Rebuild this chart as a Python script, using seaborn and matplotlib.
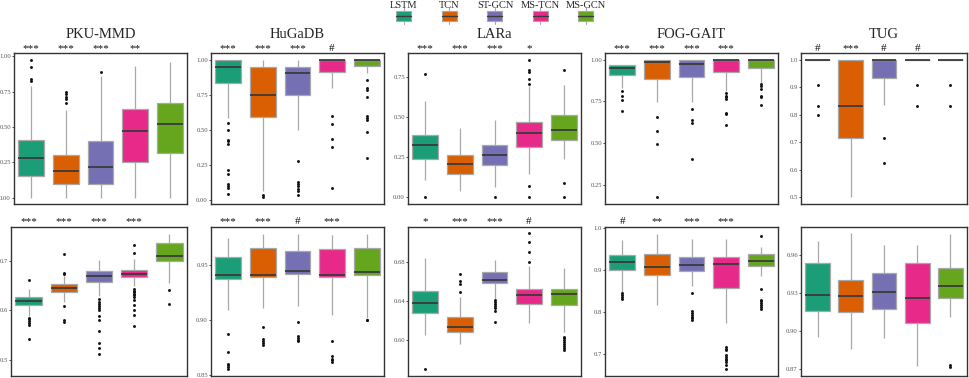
import numpy as np
import pandas as pd
import matplotlib.pyplot as plt
import matplotlib.transforms as mtransforms
from matplotlib.patches import Rectangle
import seaborn as sns

# --- Data ---
models = ["LSTM", "TCN", "ST-GCN", "MS-TCN", "MS-GCN"]
colors = ["#1B9E77", "#D95F02", "#7570B3", "#E7298A", "#66A61E"]
datasets = ["PKU-MMD", "HuGaDB", "LARa", "FOG-GAIT", "TUG"]

# box summaries per model: [whisker low, q1, median, q3, whisker high]
pku_top_box = [[0.0, 0.155, 0.28, 0.41, 0.79], [0.0, 0.10, 0.19, 0.30, 0.62],
               [0.0, 0.095, 0.215, 0.40, 0.86], [0.0, 0.255, 0.47, 0.625, 0.93],
               [0.0, 0.315, 0.52, 0.667, 0.96]]
pku_top_out = [[0.826, 0.838, 0.925, 0.973], [0.667, 0.70, 0.713, 0.73, 0.746],
               [0.885], [], []]

hugadb_top_box = [[0.586, 0.835, 0.953, 1.0, 1.0], [0.06, 0.59, 0.75, 0.955, 1.0],
                  [0.502, 0.75, 0.91, 0.955, 1.0], [0.80, 0.914, 1.0, 1.0, 1.0],
                  [0.91, 0.957, 1.0, 1.0, 1.0]]
hugadb_top_out = [[0.547, 0.502, 0.432, 0.42, 0.40, 0.215, 0.186, 0.116, 0.10, 0.083, 0.045],
                  [0.035, 0.02],
                  [0.28, 0.13, 0.115, 0.10, 0.08, 0.06, 0.035],
                  [0.60, 0.54, 0.435, 0.375, 0.088],
                  [0.86, 0.80, 0.785, 0.737, 0.603, 0.586, 0.575, 0.483, 0.30]]

lara_top_box = [[0.108, 0.237, 0.327, 0.385, 0.597], [0.04, 0.142, 0.208, 0.26, 0.433],
                [0.06, 0.20, 0.262, 0.322, 0.483], [0.142, 0.312, 0.40, 0.468, 0.692],
                [0.24, 0.353, 0.42, 0.514, 0.70]]
lara_top_out = [[0.767, 0.0], [], [0.0],
                [0.705, 0.738, 0.78, 0.79, 0.854, 0.07, 0.0],
                [0.792, 0.09, 0.0]]

fog_top_box = [[0.83, 0.907, 0.952, 0.968, 0.97], [0.746, 0.883, 0.984, 1.0, 1.0],
               [0.746, 0.895, 0.976, 1.0, 1.0], [0.81, 0.927, 1.0, 1.0, 1.0],
               [0.863, 0.948, 1.0, 1.0, 1.0]]
fog_top_out = [[0.815, 0.785, 0.76, 0.695], [0.658, 0.57, 0.494, 0.174],
               [0.702, 0.64, 0.62, 0.405],
               [0.80, 0.785, 0.775, 0.763, 0.682, 0.672, 0.607],
               [0.855, 0.843, 0.827, 0.785, 0.775, 0.727]]

tug_top_box = [[1.0, 1.0, 1.0, 1.0, 1.0], [0.5, 0.716, 0.833, 1.0, 1.0],
               [0.834, 0.933, 1.0, 1.0, 1.0], [1.0, 1.0, 1.0, 1.0, 1.0],
               [1.0, 1.0, 1.0, 1.0, 1.0]]
tug_top_out = [[0.91, 0.833, 0.80], [], [0.715, 0.625], [0.91, 0.833], [0.91, 0.833]]

pku_bot_box = [[0.589, 0.612, 0.620, 0.628, 0.643], [0.617, 0.6365, 0.645, 0.653, 0.670],
               [0.630, 0.658, 0.670, 0.680, 0.702], [0.650, 0.667, 0.673, 0.6825, 0.704],
               [0.655, 0.6996, 0.711, 0.7365, 0.7555]]
pku_bot_out = [[0.661, 0.585, 0.582, 0.578, 0.575, 0.571, 0.543],
               [0.674, 0.677, 0.714, 0.61, 0.58, 0.576],
               [0.6225, 0.618, 0.613, 0.609, 0.604, 0.600, 0.5885, 0.58, 0.558, 0.534, 0.524, 0.511],
               [0.717, 0.732, 0.643, 0.640, 0.637, 0.634, 0.631, 0.628, 0.622, 0.611, 0.600, 0.590, 0.569],
               [0.641, 0.6128]]

hugadb_bot_box = [[0.9097, 0.9378, 0.9412, 0.9578, 0.975], [0.911, 0.939, 0.9412, 0.966, 0.9787],
                  [0.9133, 0.9418, 0.9448, 0.9627, 0.9787], [0.905, 0.939, 0.941, 0.965, 0.9778],
                  [0.9024, 0.941, 0.9436, 0.966, 0.9787]]
hugadb_bot_out = [[0.8878, 0.871, 0.8606, 0.859, 0.858, 0.856],
                  [0.8936, 0.883, 0.881, 0.879, 0.8775],
                  [0.898, 0.886, 0.884, 0.8825, 0.881],
                  [0.881, 0.8678, 0.865, 0.8635, 0.862],
                  [0.9005, 0.900]]

lara_bot_box = [[0.6058, 0.628, 0.638, 0.6506, 0.684], [0.5966, 0.609, 0.6133, 0.6236, 0.644],
                [0.6427, 0.6588, 0.6622, 0.6697, 0.6827], [0.6177, 0.6369, 0.6468, 0.6523, 0.676],
                [0.609, 0.6359, 0.6478, 0.653, 0.6738]]
lara_bot_out = [[0.571], [0.6677, 0.661, 0.658, 0.650],
                [0.641, 0.639, 0.637, 0.635, 0.633, 0.630, 0.619],
                [0.680, 0.691, 0.701, 0.710],
                [0.6037, 0.602, 0.600, 0.598, 0.596, 0.594, 0.592, 0.590]]

fog_bot_box = [[0.849, 0.90, 0.919, 0.9363, 0.971], [0.8177, 0.8885, 0.907, 0.938, 0.9866],
               [0.863, 0.8979, 0.912, 0.9316, 0.974], [0.774, 0.858, 0.914, 0.9316, 0.975],
               [0.887, 0.9097, 0.9214, 0.938, 0.955]]
fog_bot_out = [[0.845, 0.840, 0.836, 0.832], [],
               [0.846, 0.802, 0.798, 0.794, 0.790, 0.786, 0.781],
               [0.718, 0.714, 0.710, 0.698, 0.694, 0.690, 0.686, 0.682, 0.675, 0.666],
               [0.982, 0.856, 0.829, 0.826, 0.822, 0.818, 0.813, 0.808]]

tug_bot_box = [[0.8955, 0.9154, 0.9287, 0.9537, 0.971], [0.8856, 0.9148, 0.9279, 0.9404, 0.977],
               [0.8947, 0.9174, 0.9307, 0.9459, 0.968], [0.8725, 0.906, 0.926, 0.9532, 0.9678],
               [0.9107, 0.926, 0.9357, 0.9498, 0.9759]]
tug_bot_out = [[], [], [], [], [0.8733, 0.8715]]

# significance marks above each box
sig_top = [["***", "***", "***", "**", ""], ["***", "***", "***", "#", ""],
           ["***", "***", "***", "*", ""], ["***", "***", "***", "***", ""],
           ["#", "***", "#", "#", ""]]
sig_bot = [["***", "***", "***", "***", ""], ["***", "***", "#", "***", ""],
           ["*", "***", "***", "#", ""], ["#", "**", "***", "***", ""],
           ["", "", "", "", ""]]

# axis ranges and ticks
ylims_top = [(-0.044, 1.022), (-0.03, 1.052), (-0.043, 0.897), (0.133, 1.041), (0.475, 1.025)]
ylims_bot = [(0.467, 0.770), (0.8494, 0.985), (0.5634, 0.7165), (0.649, 1.003), (0.8647, 0.982)]
yticks_top = [[0, 0.25, 0.5, 0.75, 1.0], [0, 0.25, 0.5, 0.75, 1.0], [0, 0.25, 0.5, 0.75],
              [0.25, 0.5, 0.75, 1.0], [0.5, 0.6, 0.7, 0.8, 0.9, 1.0]]
yticks_bot = [[0.5, 0.6, 0.7], [0.85, 0.90, 0.95], [0.60, 0.64, 0.68],
              [0.7, 0.8, 0.9, 1.0], [0.87, 0.90, 0.93, 0.96]]
fmt_top = ["{:.2f}", "{:.2f}", "{:.2f}", "{:.2f}", "{:.1f}"]
fmt_bot = ["{:.1f}", "{:.2f}", "{:.2f}", "{:.1f}", "{:.2f}"]

# --- Layout (pixel positions of panels) ---
W, H = 969, 378
lefts_top = [14, 211, 408, 605, 801]
lefts_bot = [11, 211, 408, 605, 801]
rights = [187, 384, 581, 778, 967]
row_top = (53, 204)
row_bot = (226.7, 376)

sns.set_theme(style="white")
plt.rcParams['font.family'] = ['Liberation Serif', 'DejaVu Serif']

fig = plt.figure(figsize=(W / 100, H / 100), dpi=100)


def draw_panel(ax, box_vals, out_vals, sig, ylim, yticks, fmt):
    box_df = pd.DataFrame([(m, v) for m, vals in zip(models, box_vals) for v in vals],
                          columns=["model", "value"])
    out_df = pd.DataFrame([(m, v) for m, vals in zip(models, out_vals) for v in vals],
                          columns=["model", "value"])
    sns.boxplot(data=box_df, x="model", y="value", hue="model", order=models,
                hue_order=models, palette=colors, saturation=1, dodge=False, legend=False,
                whis=(0, 100), width=0.75, showcaps=False, showfliers=False,
                linecolor="#a8a8a8", linewidth=0.9,
                medianprops=dict(color="#3a3a3a", linewidth=1.3), ax=ax)
    if len(out_df):
        sns.stripplot(data=out_df, x="model", y="value", order=models, color="#111111",
                      size=2.1, jitter=False, ax=ax)
    ax.set_xlim(-0.5, 4.5)
    ax.set_ylim(*ylim)
    ax.set_yticks(yticks)
    ax.set_yticklabels([fmt.format(t) for t in yticks])
    ax.set_xticks([])
    ax.set_xlabel("")
    ax.set_ylabel("")
    for sp in ax.spines.values():
        sp.set_color("#333333")
        sp.set_linewidth(1.0)
    ax.tick_params(axis="y", left=True, length=1.8, width=0.6, color="#333333",
                   labelsize=4.8, labelcolor="#555555", pad=0.4)
    trans = mtransforms.blended_transform_factory(ax.transData, ax.transAxes)
    for i, s in enumerate(sig):
        if s:
            ax.annotate(s, (i, 1.0), xycoords=trans, xytext=(0, 0.2),
                        textcoords="offset points", ha="center", va="bottom",
                        fontsize=8, color="#111111")


top_sets = [(pku_top_box, pku_top_out), (hugadb_top_box, hugadb_top_out),
            (lara_top_box, lara_top_out), (fog_top_box, fog_top_out),
            (tug_top_box, tug_top_out)]
bot_sets = [(pku_bot_box, pku_bot_out), (hugadb_bot_box, hugadb_bot_out),
            (lara_bot_box, lara_bot_out), (fog_bot_box, fog_bot_out),
            (tug_bot_box, tug_bot_out)]

for j in range(5):
    for (ytop, ybot), lefts, sets, sigs, ylims, yticks, fmts in [
            (row_top, lefts_top, top_sets, sig_top, ylims_top, yticks_top, fmt_top),
            (row_bot, lefts_bot, bot_sets, sig_bot, ylims_bot, yticks_bot, fmt_bot)]:
        ax = fig.add_axes([lefts[j] / W, 1 - ybot / H, (rights[j] - lefts[j]) / W,
                           (ybot - ytop) / H])
        draw_panel(ax, sets[j][0], sets[j][1], sigs[j], ylims[j], yticks[j], fmts[j])
        if ytop == row_top[0]:
            ax.set_title(datasets[j], fontsize=10.5, pad=11)

# --- Legend (labels above keys) ---
leg = fig.add_axes([0, 0, 1, 1])
leg.set_xlim(0, W)
leg.set_ylim(H, 0)
leg.axis("off")
legend_x = [404, 449.5, 495, 540.5, 586]
for cx, m, c in zip(legend_x, models, colors):
    leg.add_patch(Rectangle((cx - 7.5, 11), 15, 10, facecolor=c, edgecolor="#a8a8a8", lw=0.8))
    leg.plot([cx - 7.5, cx + 7.5], [16, 16], color="#3a3a3a", lw=1.0)
    leg.plot([cx, cx], [8, 11], color="#a8a8a8", lw=0.8)
    leg.plot([cx, cx], [21, 24], color="#a8a8a8", lw=0.8)
    leg.text(cx, 5, m, ha="center", va="center", fontsize=7.5)

fig.savefig("out.png", dpi=100)
